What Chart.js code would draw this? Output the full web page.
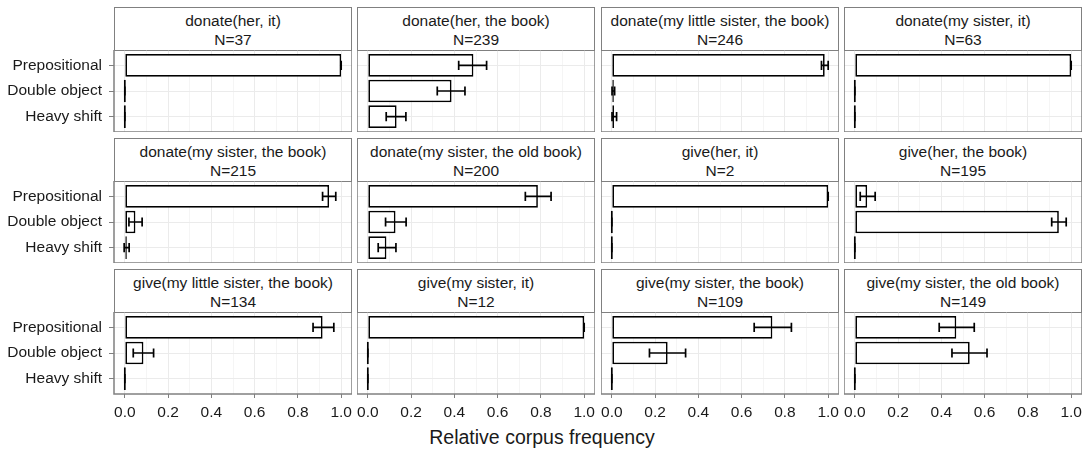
<!doctype html>
<html lang="en">
<head>
    <meta charset="utf-8">
    <title>Relative corpus frequency</title>
    <script src="https://cdn.jsdelivr.net/npm/chart.js@4.4.0/dist/chart.umd.min.js"></script>
    <style>
        body {
            margin: 0;
            background: #fff;
            font-family: "Liberation Sans", Arial, sans-serif;
        }
        #wrap {
            position: relative;
            width: 1092px;
            height: 451px;
        }
        .strip {
            position: absolute;
            box-sizing: border-box;
            border: 1.5px solid #808080;
            background: #fff;
            display: flex;
            flex-direction: column;
            justify-content: center;
            align-items: center;
            font-size: 15.5px;
            line-height: 19px;
            color: #1a1a1a;
            padding-top: 1px;
        }
        .box {
            position: absolute;
        }
        #xtitle {
            position: absolute;
            left: 0;
            width: 1084px;
            top: 426px;
            text-align: center;
            font-size: 19.5px;
            color: #1a1a1a;
        }
    </style>
</head>
<body>
    <div id="wrap">
        <div id="xtitle">Relative corpus frequency</div>
    </div>

    <script>
        // categories (top to bottom inside every panel)
        const categories = ['Prepositional', 'Double object', 'Heavy shift'];

        // panel strips
        const verbs = [
            'donate(her, it)', 'donate(her, the book)', 'donate(my little sister, the book)', 'donate(my sister, it)',
            'donate(my sister, the book)', 'donate(my sister, the old book)', 'give(her, it)', 'give(her, the book)',
            'give(my little sister, the book)', 'give(my sister, it)', 'give(my sister, the book)', 'give(my sister, the old book)'
        ];
        const counts = [37, 239, 246, 63, 215, 200, 2, 195, 134, 12, 109, 149];

        // relative frequencies per panel: [Prepositional, Double object, Heavy shift]
        const freq = [
            [1.0, 0, 0],
            [0.488, 0.387, 0.133],
            [0.984, 0.006, 0.010],
            [1.0, 0, 0],
            [0.944, 0.049, 0.007],
            [0.786, 0.128, 0.086],
            [1.0, 0, 0],
            [0.057, 0.943, 0],
            [0.914, 0.086, 0],
            [1.0, 0, 0],
            [0.742, 0.258, 0],
            [0.469, 0.531, 0]
        ];
        // error bar ends
        const lower = [
            [1.0, 0, 0],
            [0.420, 0.321, 0.085],
            [0.969, 0.001, 0.001],
            [1.0, 0, 0],
            [0.914, 0.019, -0.003],
            [0.728, 0.082, 0.048],
            [1.0, 0, 0],
            [0.025, 0.910, 0],
            [0.870, 0.039, 0],
            [1.0, 0, 0],
            [0.658, 0.174, 0],
            [0.390, 0.449, 0]
        ];
        const upper = [
            [1.0, 0, 0],
            [0.549, 0.449, 0.176],
            [1.0, 0.013, 0.022],
            [1.0, 0, 0],
            [0.975, 0.080, 0.020],
            [0.847, 0.177, 0.130],
            [1.0, 0, 0],
            [0.094, 0.977, 0],
            [0.966, 0.133, 0],
            [1.0, 0, 0],
            [0.830, 0.341, 0],
            [0.552, 0.611, 0]
        ];

        const xTickValues = [0, 0.1, 0.2, 0.3, 0.4, 0.5, 0.6, 0.7, 0.8, 0.9, 1.0];

        // panel layout
        const colLeft = [114, 357, 601, 844];
        const rowTop = [7, 138, 269];
        const stripH = 43, plotW = 238, plotH = 82, yAxisW = 114, xAxisH = 57;
        const fontFamily = '"Liberation Sans", Arial, sans-serif';

        const errorBars = {
            id: 'errorBars',
            afterDatasetsDraw(chart, args, opts) {
                let xs = chart.scales.x, ys = chart.scales.y, ctx = chart.ctx;
                ctx.save();
                ctx.lineWidth = 1.7;
                ctx.strokeStyle = '#000';
                opts.lo.forEach((lo, i) => {
                    let y = ys.getPixelForValue(i + 1);
                    let h = Math.abs(ys.getPixelForValue(i + 1.18) - y);
                    let xa = xs.getPixelForValue(lo);
                    let xb = xs.getPixelForValue(opts.hi[i]);
                    ctx.beginPath();
                    ctx.moveTo(xa, y); ctx.lineTo(xb, y);
                    ctx.moveTo(xa, y - h); ctx.lineTo(xa, y + h);
                    ctx.moveTo(xb, y - h); ctx.lineTo(xb, y + h);
                    ctx.stroke();
                });
                ctx.restore();
            }
        };

        const panelFrame = {
            id: 'panelFrame',
            afterDraw(chart) {
                let a = chart.chartArea, ctx = chart.ctx;
                ctx.save();
                ctx.lineWidth = 1.5;
                ctx.strokeStyle = '#808080';
                ctx.strokeRect(a.left, a.top, a.right - a.left, a.bottom - a.top);
                ctx.restore();
            }
        };

        const wrap = document.getElementById('wrap');

        verbs.forEach((verb, k) => {
            let r = Math.floor(k / 4), c = k % 4;
            let isLeft = c === 0, isBottom = r === 2;

            let strip = document.createElement('div');
            strip.className = 'strip';
            strip.style.left = colLeft[c] + 'px';
            strip.style.top = rowTop[r] + 'px';
            strip.style.width = plotW + 'px';
            strip.style.height = (stripH + 1) + 'px';
            strip.innerHTML = '<div>' + verb + '</div><div>N=' + counts[k] + '</div>';
            wrap.append(strip);

            let box = document.createElement('div');
            box.className = 'box';
            let w = plotW + (isLeft ? yAxisW : 0);
            let h = plotH + (isBottom ? xAxisH : 0);
            box.style.left = (isLeft ? 0 : colLeft[c]) + 'px';
            box.style.top = (rowTop[r] + stripH) + 'px';
            let canvas = document.createElement('canvas');
            canvas.width = w;
            canvas.height = h;
            box.append(canvas);
            wrap.append(box);

            new Chart(canvas, {
                type: 'bar',
                data: {
                    datasets: [{
                        data: freq[k].map((v, i) => ({ x: v, y: i + 1 })),
                        backgroundColor: '#fff',
                        borderColor: '#000',
                        borderWidth: 1.7,
                        borderSkipped: false,
                        minBarLength: 2,
                        barPercentage: 0.88,
                        categoryPercentage: 1
                    }]
                },
                options: {
                    indexAxis: 'y',
                    responsive: false,
                    animation: false,
                    events: [],
                    layout: { padding: 0 },
                    plugins: {
                        legend: { display: false },
                        tooltip: { enabled: false },
                        errorBars: { lo: lower[k], hi: upper[k] }
                    },
                    scales: {
                        x: {
                            type: 'linear',
                            min: -0.05,
                            max: 1.05,
                            offset: false,
                            afterBuildTicks: s => { s.ticks = xTickValues.map(v => ({ value: v })); },
                            afterFit: s => { s.height = isBottom ? xAxisH : 0; s.paddingLeft = 0; s.paddingRight = 0; },
                            border: { display: false },
                            grid: {
                                color: ctx => ctx.index % 2 === 0 ? '#ebebeb' : '#f5f5f5',
                                lineWidth: 1,
                                drawTicks: isBottom,
                                tickLength: 4,
                                tickColor: ctx => ctx.index % 2 === 0 ? '#7f7f7f' : 'rgba(0,0,0,0)'
                            },
                            ticks: {
                                display: isBottom,
                                autoSkip: false,
                                maxRotation: 0,
                                padding: 5,
                                color: '#1a1a1a',
                                font: { family: fontFamily, size: 15.5 },
                                callback: (v, i) => i % 2 === 0 ? Number(v).toFixed(1) : ''
                            }
                        },
                        y: {
                            type: 'linear',
                            reverse: true,
                            min: 0.4,
                            max: 3.6,
                            offset: false,
                            afterBuildTicks: s => { s.ticks = categories.map((cat, i) => ({ value: i + 1 })); },
                            afterFit: s => { s.width = isLeft ? yAxisW : 0; s.paddingTop = 0; s.paddingBottom = 0; },
                            border: { display: false },
                            grid: {
                                offset: false,
                                color: '#ebebeb',
                                lineWidth: 1,
                                drawTicks: isLeft,
                                tickLength: 5,
                                tickColor: '#7f7f7f'
                            },
                            ticks: {
                                display: isLeft,
                                autoSkip: false,
                                padding: 7,
                                color: '#1a1a1a',
                                font: { family: fontFamily, size: 15.5 },
                                callback: (v, i) => categories[i]
                            }
                        }
                    }
                },
                plugins: [errorBars, panelFrame]
            });
        });
    </script>
</body>
</html>
